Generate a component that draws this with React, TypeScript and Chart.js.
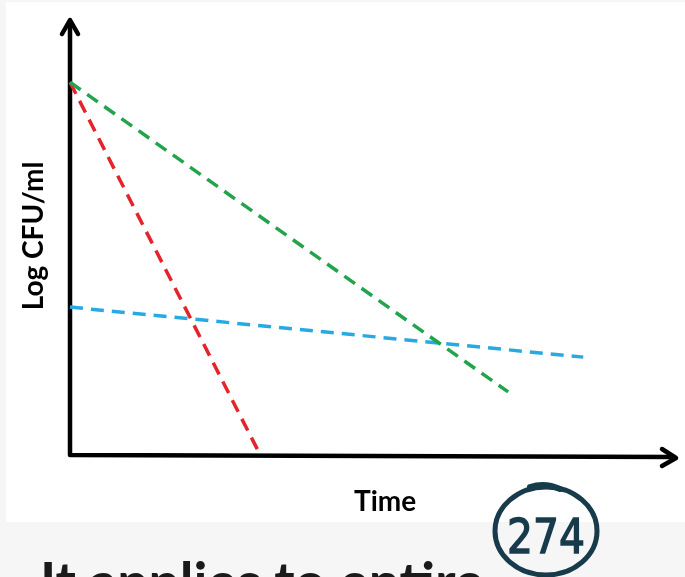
import React, { useEffect, useRef } from "react";
import { Chart, registerables } from "chart.js";

Chart.register(...registerables);

// Schematic time-kill curves (log CFU/ml vs time), values on a 0–100 scale
const redX = [0, 31.4];
const redY = [85.7, 0];
const greenX = [0, 72.3];
const greenY = [85.7, 14.5];
const blueX = [0, 84.7];
const blueY = [34.0, 22.5];

const xTitle = "Time";
const yTitle = "Log CFU/ml";
const caption = "It applies to entire";
const noteNumber = "274";

const pts = (xs: number[], ys: number[]) => xs.map((x, i) => ({ x, y: ys[i] }));

const axesPlugin = {
  id: "axesArrows",
  beforeDatasetsDraw(chart: any) {
    const { ctx, scales } = chart;
    const xs = scales.x;
    const ys = scales.y;
    const x0 = xs.getPixelForValue(0);
    const x1 = xs.getPixelForValue(100);
    const y0 = ys.getPixelForValue(0);
    const y1 = ys.getPixelForValue(100);
    ctx.save();
    ctx.strokeStyle = "#000";
    ctx.lineWidth = 4.5;
    ctx.lineCap = "round";
    ctx.lineJoin = "round";
    ctx.beginPath();
    ctx.moveTo(x0, y1 + 2);
    ctx.lineTo(x0, y0);
    ctx.lineTo(x1 - 2, y0 + 2);
    ctx.stroke();
    // y arrowhead
    ctx.beginPath();
    ctx.moveTo(x0 - 8, y1 + 14);
    ctx.lineTo(x0, y1);
    ctx.lineTo(x0 + 8, y1 + 14);
    ctx.stroke();
    // x arrowhead
    ctx.beginPath();
    ctx.moveTo(x1 - 14, y0 - 6);
    ctx.lineTo(x1, y0 + 3);
    ctx.lineTo(x1 - 14, y0 + 11);
    ctx.stroke();
    ctx.restore();
  },
  afterDraw(chart: any) {
    const { ctx, scales } = chart;
    const xs = scales.x;
    ctx.save();
    ctx.fillStyle = "#000";
    ctx.font = "bold 28px Lato";
    ctx.textAlign = "center";
    ctx.textBaseline = "alphabetic";
    ctx.fillText(xTitle, xs.getPixelForValue(52), 511);
    ctx.translate(43, 236);
    ctx.rotate(-Math.PI / 2);
    ctx.fillText(yTitle, 0, 0);
    ctx.restore();
  },
};

export default function App() {
  const ref = useRef<HTMLCanvasElement>(null);
  useEffect(() => {
    if (!ref.current) return;
    const dash = [13, 8];
    const mk = (data: any, color: string) => ({
      data,
      borderColor: color,
      borderWidth: 3.5,
      borderDash: dash,
      pointRadius: 0,
      fill: false,
      tension: 0,
      clip: false as any,
    });
    const chart = new Chart(ref.current, {
      type: "line",
      data: {
        datasets: [
          mk(pts(greenX, greenY), "#22a34c"),
          mk(pts(blueX, blueY), "#27aae2"),
          mk(pts(redX, redY), "#e4232a"),
        ],
      },
      options: {
        responsive: false,
        maintainAspectRatio: false,
        devicePixelRatio: 1,
        animation: false,
        layout: { padding: { left: 70, right: 9, top: 20, bottom: 122 } },
        plugins: { legend: { display: false }, tooltip: { enabled: false } },
        scales: {
          x: { type: "linear", min: 0, max: 100, display: false },
          y: { type: "linear", min: 0, max: 100, display: false },
        },
      },
      plugins: [axesPlugin],
    });
    return () => chart.destroy();
  }, []);

  return (
    <div
      style={{
        position: "absolute",
        left: 0,
        top: 0,
        width: 685,
        height: 577,
        overflow: "hidden",
        background: "#f6f6f6",
      }}
    >
      <div
        style={{
          position: "absolute",
          left: 6,
          top: 2,
          width: 679,
          height: 520,
          background: "#ffffff",
        }}
      />
      <canvas
        ref={ref}
        width={685}
        height={577}
        style={{ position: "absolute", left: 0, top: 0, width: 685, height: 577 }}
      />
      <div
        style={{
          position: "absolute",
          left: 40,
          top: 554,
          fontFamily: "Lato",
          fontWeight: 700,
          fontSize: 55,
          lineHeight: "55px",
          color: "#1a1a1a",
          whiteSpace: "nowrap",
        }}
      >
        {caption}
      </div>
      <svg
        width={685}
        height={577}
        style={{ position: "absolute", left: 0, top: 0 }}
      >
        <ellipse cx={546} cy={531} rx={51} ry={44} fill="none" stroke="#173b4b" strokeWidth={5} />
        <path d="M 530 487 Q 545 482 560 489" fill="none" stroke="#173b4b" strokeWidth={6} strokeLinecap="round" />
        <text
          x={546}
          y={553}
          textAnchor="middle"
          fontFamily="DejaVu Sans"
          fontSize={48}
          fill="#173b4b"
          stroke="#173b4b"
          strokeWidth={1.5}
          transform="translate(546 0) scale(0.85 1) translate(-546 0)"
        >
          {noteNumber}
        </text>
      </svg>
    </div>
  );
}
